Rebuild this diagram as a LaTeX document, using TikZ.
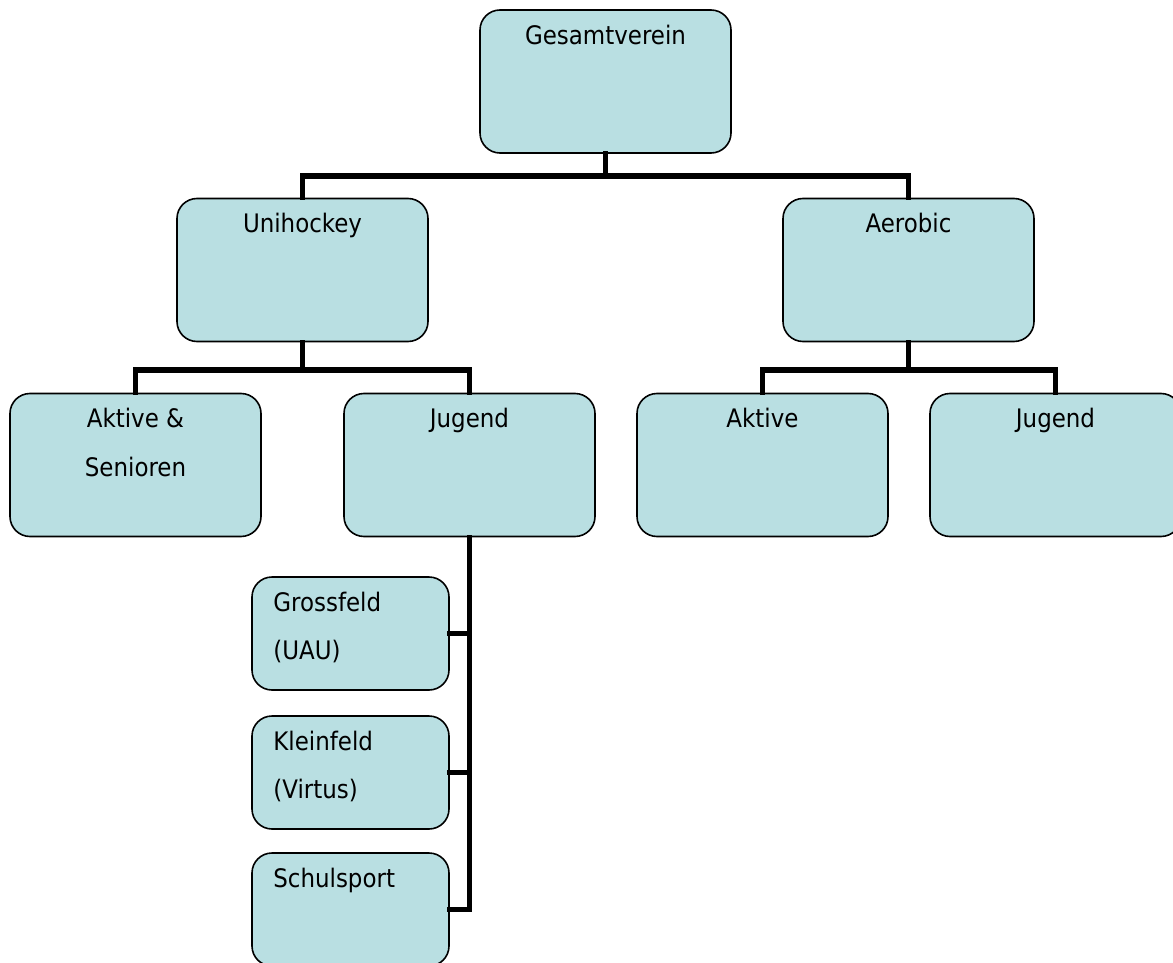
\documentclass[tikz,border=0pt]{standalone}
\usepackage{fontspec}
\setmainfont{DejaVu Sans Condensed}
\definecolor{boxfill}{RGB}{185,223,226}
\tikzset{
  box/.style={draw=black, line width=1.6pt, fill=boxfill, rounded corners=20pt, inner sep=0pt},
  bigbox/.style={box, minimum width=251pt, minimum height=143pt},
  smallbox/.style={box, minimum width=197pt, minimum height=113pt},
  lbl/.style={anchor=base, inner sep=0pt, font=\fontsize{25.5}{26}\selectfont},
  conn/.style={line width=5.5pt, line cap=rect, draw=black},
}
\begin{document}
\begin{tikzpicture}[x=1pt,y=-1pt]
\useasboundingbox (0,0) rectangle (1173,963);
\clip (0,0) rectangle (1173,963);
\fill[white] (0,0) rectangle (1173,963);
% boxes
\node[bigbox] (gv) at (605.5,81.5) {};
\node[bigbox] (uh) at (302.5,270) {};
\node[bigbox] (ae) at (908.5,270) {};
\node[bigbox] (as) at (135.5,465) {};
\node[bigbox] (ju) at (469.5,465) {};
\node[bigbox] (ak) at (762.5,465) {};
\node[bigbox] (ja) at (1055.5,465) {};
\node[smallbox] (gf) at (350.5,633.5) {};
\node[smallbox] (kf) at (350.5,772.5) {};
\node[smallbox] (sp) at (350.5,909.5) {};
% connector buses
\coordinate (b1) at (0,176);
\coordinate (b2) at (0,370);
\coordinate (b3) at (0,370);
\draw[conn] (gv.south) -- (gv.south |- b1) -| (uh.north);
\draw[conn] (gv.south |- b1) -| (ae.north);
\draw[conn] (uh.south) -- (uh.south |- b2) -| (as.north);
\draw[conn] (uh.south |- b2) -| (ju.north);
\draw[conn] (ae.south) -- (ae.south |- b3) -| (ak.north);
\draw[conn] (ae.south |- b3) -| (ja.north);
\draw[conn] (ju.south) |- (sp.east);
\draw[conn] (ju.south |- gf.east) -- (gf.east);
\draw[conn] (ju.south |- kf.east) -- (kf.east);
% labels
\node[lbl] (tgv) at ([yshift=-35pt]gv.north) {Gesamtverein};
\node[lbl] (tuh) at ([yshift=-35pt]uh.north) {Unihockey};
\node[lbl] (tae) at ([yshift=-35pt]ae.north) {Aerobic};
\node[lbl] (tas1) at ([yshift=-35pt]as.north) {Aktive \&};
\node[lbl] (tas2) at ([yshift=-84pt]as.north) {Senioren};
\node[lbl] (tju) at ([yshift=-35pt]ju.north) {Jugend};
\node[lbl] (tak) at ([yshift=-35pt]ak.north) {Aktive};
\node[lbl] (tja) at ([yshift=-35pt]ja.north) {Jugend};
\node[lbl, anchor=base west] (tgf1) at ([xshift=22pt,yshift=-35pt]gf.north west) {Grossfeld};
\node[lbl, anchor=base west] (tgf2) at ([xshift=22pt,yshift=-83pt]gf.north west) {(UAU)};
\node[lbl, anchor=base west] (tkf1) at ([xshift=22pt,yshift=-35pt]kf.north west) {Kleinfeld};
\node[lbl, anchor=base west] (tkf2) at ([xshift=22pt,yshift=-83pt]kf.north west) {(Virtus)};
\node[lbl, anchor=base west] (tsp) at ([xshift=22pt,yshift=-35pt]sp.north west) {Schulsport};
\end{tikzpicture}
\end{document}
